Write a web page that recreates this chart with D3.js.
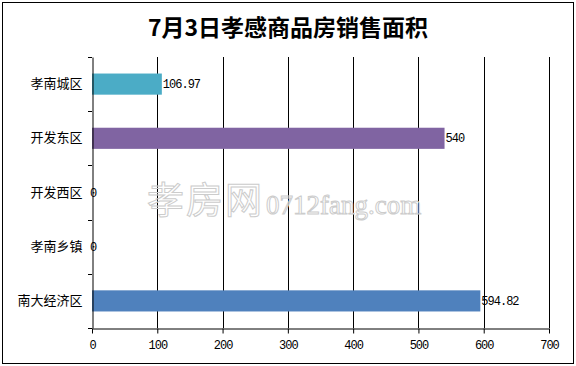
<!DOCTYPE html>
<html><head><meta charset="utf-8">
<script src="https://cdn.jsdelivr.net/npm/d3@7"></script>
<style>body{margin:0;background:#fff}svg{display:block}</style>
</head><body>
<svg id="c" width="576" height="366"></svg>
<script>
const categories = ["孝南城区","开发东区","开发西区","孝南乡镇","南大经济区"];
const values = [106.97, 540, 0, 0, 594.82];
const valueLabels = ["106.97","540","0","0","594.82"];
const barColors = ["#4bacc6","#8064a2","#4bacc6","#4bacc6","#4f81bd"];
const xTicks = [0,100,200,300,400,500,600,700];
const title = "7月3日孝感商品房销售面积";

const svg = d3.select("#c");
svg.append("rect").attr("x",2.5).attr("y",2.5).attr("width",571).attr("height",361)
  .attr("fill","#fff").attr("stroke","#000").attr("stroke-width",1);

svg.append("text").attr("x",288).attr("y",36).attr("text-anchor","middle")
  .attr("font-family","'Noto Sans CJK SC'").attr("font-weight","bold").attr("font-size",23)
  .attr("fill","#000").text(title);

const L=92, R=549, T=57, B=328;
const x = d3.scaleLinear().domain([0,700]).range([L,R]);
const y = d3.scaleBand().domain(categories).range([T,B]).paddingInner(0.61).paddingOuter(0.305);
const band = d3.scaleBand().domain(categories).range([T,B]);

// gridlines
svg.append("g").selectAll("line").data(xTicks.slice(1)).join("line")
  .attr("x1",d=>Math.round(x(d))+0.5).attr("x2",d=>Math.round(x(d))+0.5)
  .attr("y1",T).attr("y2",B).attr("stroke","#000").attr("stroke-width",1);

// watermark
const wm = svg.append("text").attr("x",147).attr("y",214)
  .attr("fill","#fff").attr("fill-opacity",0.2).attr("stroke","#cccccc").attr("stroke-width",1);
wm.append("tspan").attr("font-family","'Noto Sans CJK SC'").attr("font-size",37).attr("letter-spacing",2).text("孝房网");
wm.append("tspan").attr("font-family","'Liberation Serif'").attr("font-size",27).attr("dx",2).text("0712fang.com");

// bars
svg.append("g").selectAll("rect").data(values).join("rect")
  .attr("x",x(0)).attr("y",(d,i)=>y(categories[i]))
  .attr("width",d=>x(d)-x(0)).attr("height",y.bandwidth())
  .attr("fill",(d,i)=>barColors[i]);

// value labels
svg.append("g").selectAll("text").data(values).join("text")
  .attr("x",d=>x(d)+(d===0?-2:1)).attr("y",(d,i)=>y(categories[i])+y.bandwidth()/2+4)
  .attr("font-family","'Liberation Mono'").attr("font-size",12).attr("letter-spacing",-1).attr("fill","#000")
  .text((d,i)=>valueLabels[i]);

// x axis
const xa = svg.append("g").attr("transform",`translate(0,${B+0.5})`)
  .call(d3.axisBottom(x).tickValues(xTicks).tickSize(5).tickSizeOuter(0).tickPadding(7).tickFormat(d3.format("d")));
xa.select(".domain").attr("stroke","#000");
xa.selectAll(".tick line").attr("stroke","#000");
xa.selectAll(".tick text").attr("font-family","'Liberation Mono'").attr("font-size",12).attr("letter-spacing",-1).attr("fill","#000");

// y axis
const ya = svg.append("g").attr("transform",`translate(${L+0.5},0)`)
  .call(d3.axisLeft(band).tickSize(0).tickPadding(10));
ya.select(".domain").attr("stroke","#000");
ya.selectAll(".tick text").attr("font-family","'Noto Sans CJK SC'").attr("font-size",13).attr("fill","#000");
// boundary ticks
const bounds = categories.map(c=>band(c)).concat([B]);
svg.append("g").selectAll("line").data(bounds).join("line")
  .attr("x1",L-4).attr("x2",L).attr("y1",d=>Math.round(d)+0.5).attr("y2",d=>Math.round(d)+0.5)
  .attr("stroke","#000");
</script>
</body></html>
